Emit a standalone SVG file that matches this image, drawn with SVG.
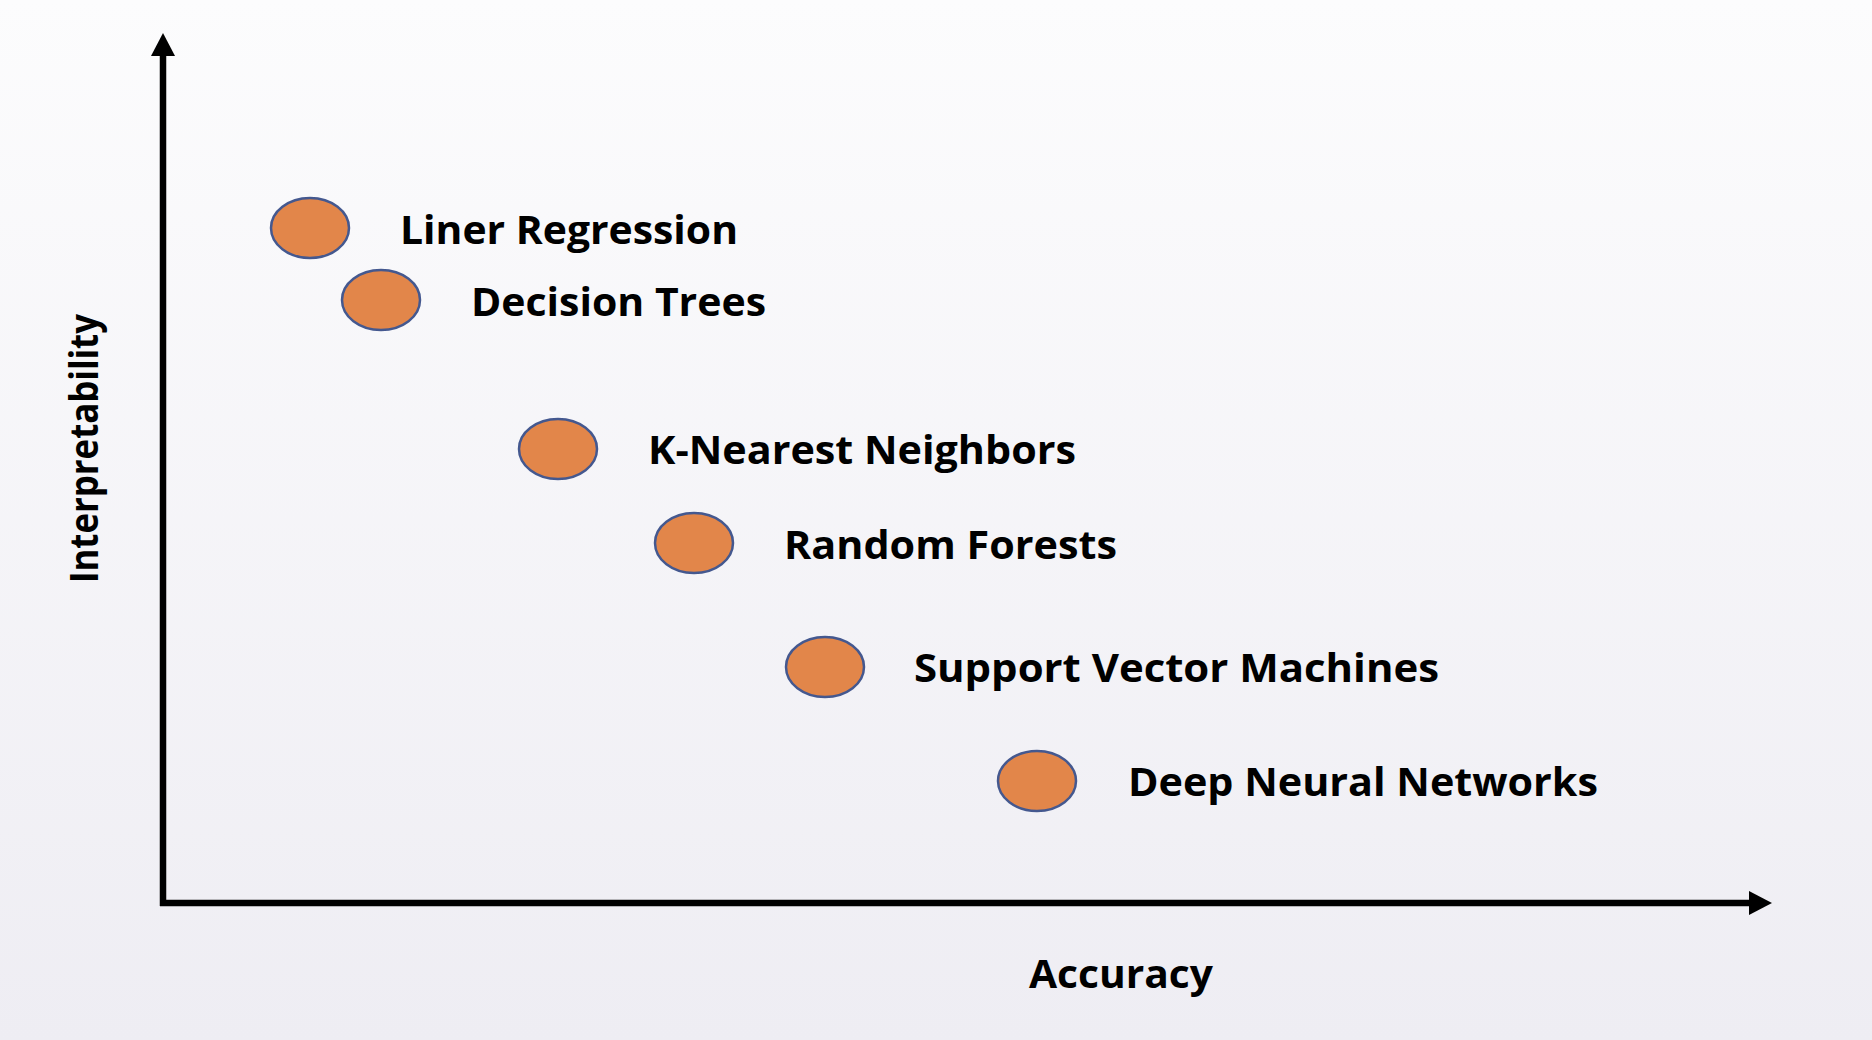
<svg xmlns="http://www.w3.org/2000/svg" width="1872" height="1040" viewBox="0 0 1872 1040">
  <defs>
    <linearGradient id="bg" x1="0" y1="0" x2="0" y2="1">
      <stop offset="0" stop-color="#fcfcfd"/>
      <stop offset="1" stop-color="#eeedf3"/>
    </linearGradient>
    <marker id="arrow" markerUnits="userSpaceOnUse" markerWidth="24" markerHeight="24" refX="2" refY="12" orient="auto" viewBox="0 0 24 24">
      <path d="M0,0 L23,12 L0,24 Z" fill="#000"/>
    </marker>
  </defs>
  <style>
    .dot { fill: #e2864a; stroke: #44588f; stroke-width: 2.5; }
    .lbl { font-family: "Open Sans", "Liberation Sans", sans-serif; font-weight: bold; font-size: 40px; fill: #000; }
    .axis { stroke: #000; stroke-width: 6.5; fill: none; }
  </style>
  <rect x="0" y="0" width="1872" height="1040" fill="url(#bg)"/>

  <g id="connectors">
    <path class="axis" d="M163,906 L163,54" marker-end="url(#arrow)"/>
    <path class="axis" d="M160,903 L1751,903" marker-end="url(#arrow)"/>
  </g>

  <g id="axis-y-label">
    <text class="lbl" transform="translate(98,583) rotate(-90)" x="0" y="0" font-size="38" textLength="269" lengthAdjust="spacingAndGlyphs">Interpretability</text>
  </g>
  <g id="axis-x-label">
    <text class="lbl" x="1029" y="988" textLength="184" lengthAdjust="spacingAndGlyphs">Accuracy</text>
  </g>

  <g id="node-linear-regression">
    <ellipse class="dot" cx="310" cy="228" rx="39" ry="30"/>
    <text class="lbl" x="400" y="244" textLength="338" lengthAdjust="spacingAndGlyphs">Liner Regression</text>
  </g>
  <g id="node-decision-trees">
    <ellipse class="dot" cx="381" cy="300" rx="39" ry="30"/>
    <text class="lbl" x="471" y="316" textLength="295" lengthAdjust="spacingAndGlyphs">Decision Trees</text>
  </g>
  <g id="node-knn">
    <ellipse class="dot" cx="558" cy="449" rx="39" ry="30"/>
    <text class="lbl" x="648" y="464" textLength="428" lengthAdjust="spacingAndGlyphs">K-Nearest Neighbors</text>
  </g>
  <g id="node-random-forests">
    <ellipse class="dot" cx="694" cy="543" rx="39" ry="30"/>
    <text class="lbl" x="784" y="559" textLength="333" lengthAdjust="spacingAndGlyphs">Random Forests</text>
  </g>
  <g id="node-svm">
    <ellipse class="dot" cx="825" cy="667" rx="39" ry="30"/>
    <text class="lbl" x="914" y="682" textLength="525" lengthAdjust="spacingAndGlyphs">Support Vector Machines</text>
  </g>
  <g id="node-dnn">
    <ellipse class="dot" cx="1037" cy="781" rx="39" ry="30"/>
    <text class="lbl" x="1128" y="796" textLength="470" lengthAdjust="spacingAndGlyphs">Deep Neural Networks</text>
  </g>
</svg>
